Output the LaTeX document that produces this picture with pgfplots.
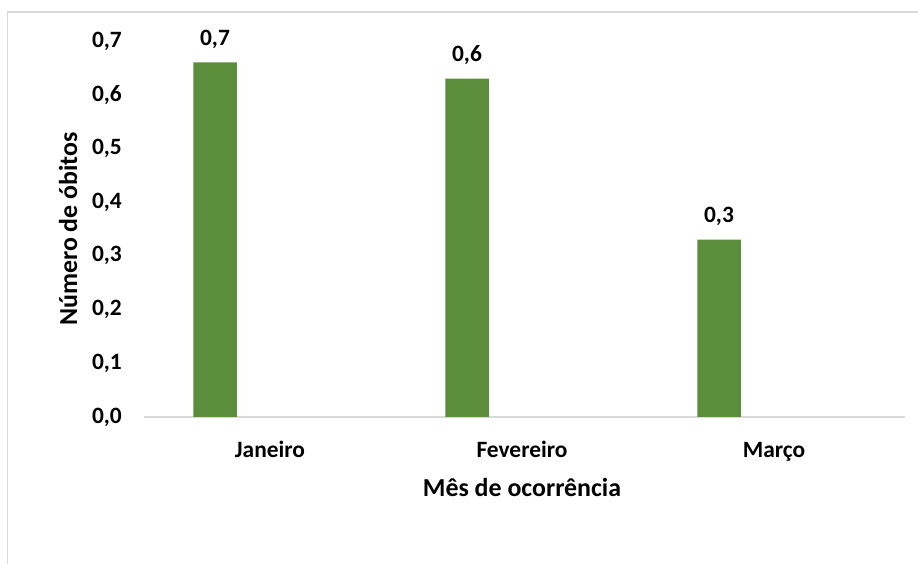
\documentclass[border=0pt]{standalone}
\usepackage{fontspec}
\setmainfont{Carlito}
\usepackage{pgfplots}
\pgfplotsset{compat=1.18}
\definecolor{bargreen}{RGB}{90,142,58}
\definecolor{framegray}{RGB}{217,217,217}
\newcommand{\tickfont}{\fontsize{23.5}{27}\selectfont\bfseries}
\newcommand{\titlefont}{\fontsize{26}{30}\selectfont\bfseries}
\begin{document}
\begin{tikzpicture}
\path[use as bounding box] (0,0) rectangle (918bp,564bp);
\draw[framegray, line width=1.3bp] (7.5bp,0) -- (7.5bp,552bp) -- (918bp,552bp);
\begin{axis}[
  at={(144bp,147bp)}, anchor=south west,
  scale only axis,
  width=756bp, height=376bp,
  xmin=-0.5, xmax=2.5,
  ymin=0, ymax=0.7,
  xtick={0,1,2},
  xticklabels={Janeiro,Fevereiro,Março},
  ytick={0,0.1,0.2,0.3,0.4,0.5,0.6,0.7},
  axis x line*=bottom, axis y line*=left,
  x axis line style={draw=framegray, line width=1.5bp, -, shorten >=-5bp},
  y axis line style={draw=none},
  tick style={draw=none},
  major tick length=0pt,
  /pgf/number format/.cd, fixed, fixed zerofill, precision=1, use comma, assume math mode=true,
  /pgfplots/.cd,
  yticklabel style={font=\tickfont, anchor=east, inner sep=0pt, xshift=-22bp},
  xticklabel style={font=\tickfont, anchor=base, inner sep=0pt, yshift=-40bp},
  xlabel={Mês de ocorrência},
  ylabel={Número de óbitos},
  xlabel style={font=\titlefont, at={(axis description cs:0.5,0)}, anchor=base, inner sep=0pt, yshift=-79bp},
  ylabel style={font=\titlefont, at={([xshift=-67bp]axis description cs:0,0.5)}, anchor=base, inner sep=0pt},
  clip=false,
]
\addplot[
  ybar, bar width=43.5bp, bar shift=-55bp,
  fill=bargreen, draw=none,
  nodes near coords,
  nodes near coords style={font=\tickfont, anchor=base, inner sep=0pt, xshift=-55bp, yshift=17bp, text=black},
] coordinates {(0,0.66) (1,0.63) (2,0.33)};
\end{axis}
\end{tikzpicture}
\end{document}
